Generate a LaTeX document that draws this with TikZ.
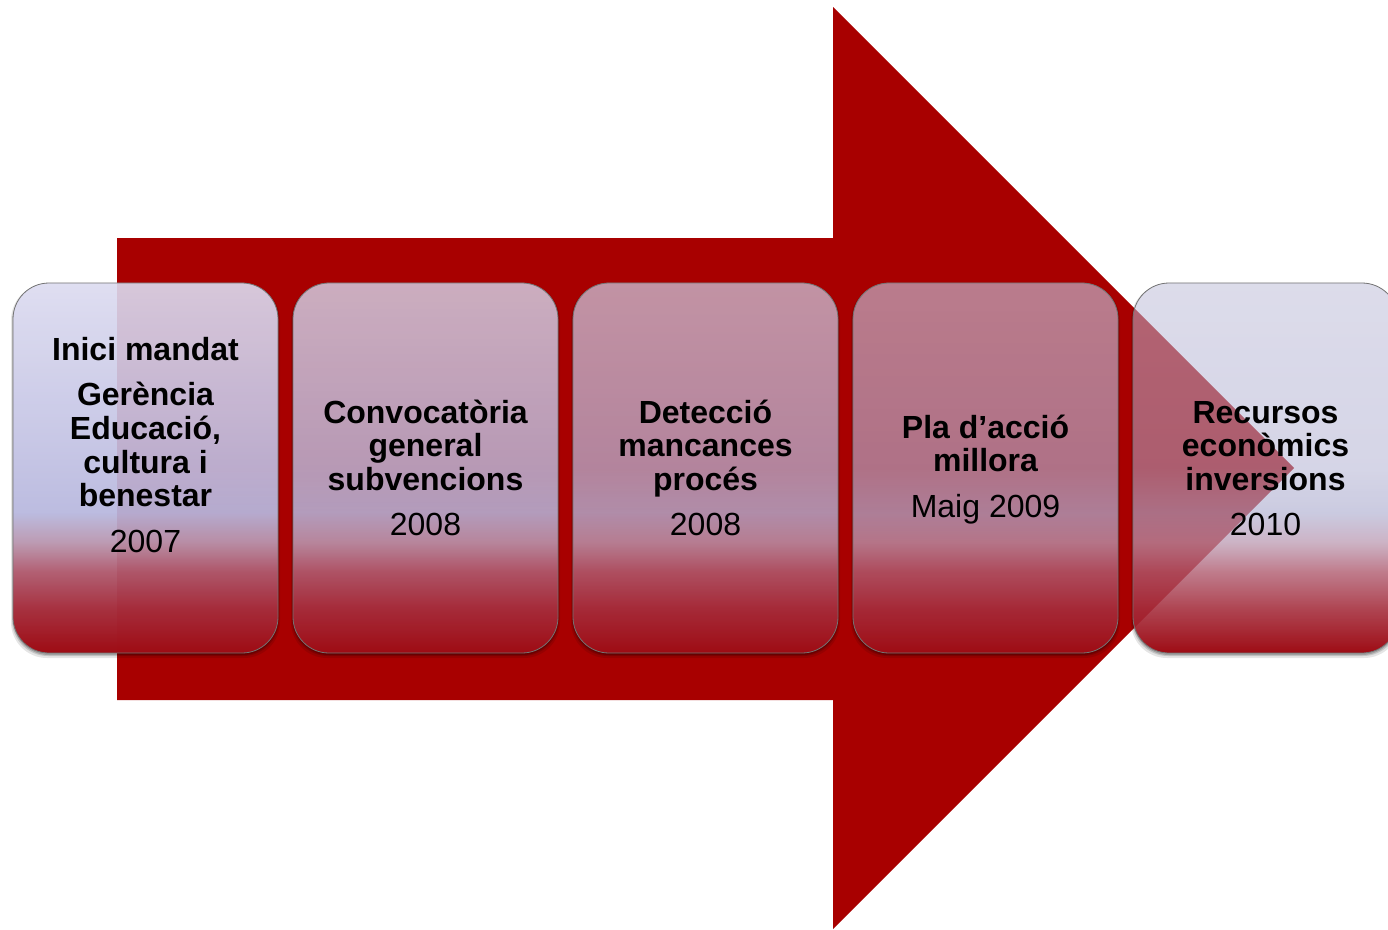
\documentclass[tikz,border=0pt]{standalone}
\usepackage{fontspec}
\setmainfont{Liberation Sans}
\usetikzlibrary{fadings}

\definecolor{arrowred}{RGB}{168,0,0}
\definecolor{loA}{RGB}{158,12,20}
\definecolor{loB}{RGB}{165,45,60}
\definecolor{loC}{RGB}{175,90,110}
\definecolor{loD}{RGB}{185,150,175}
\definecolor{topA}{RGB}{220,219,240}\definecolor{midA}{RGB}{183,183,222}
\definecolor{topB}{RGB}{212,212,234}\definecolor{midB}{RGB}{181,181,218}
\definecolor{topC}{RGB}{205,204,228}\definecolor{midC}{RGB}{179,179,215}
\definecolor{topD}{RGB}{197,197,223}\definecolor{midD}{RGB}{176,176,211}
\definecolor{topE}{RGB}{190,189,217}\definecolor{midE}{RGB}{174,174,208}

\newcommand{\mkboxshade}[3]{%
  \pgfdeclareverticalshading{#1}{100bp}{color(0bp)=(loA); color(25bp)=(loA);
    color(31bp)=(loB); color(36bp)=(loC); color(40bp)=(loD);
    color(44bp)=(#2); color(75bp)=(#3); color(100bp)=(#3)}}
\mkboxshade{bsA}{midA}{topA}
\mkboxshade{bsB}{midB}{topB}
\mkboxshade{bsC}{midC}{topC}
\mkboxshade{bsD}{midD}{topD}
\mkboxshade{bsE}{midE}{topE}

\tikzfading[name=fadeA, top color=transparent!9, bottom color=transparent!0, middle color=transparent!9]
\tikzfading[name=fadeB, top color=transparent!18, bottom color=transparent!0, middle color=transparent!18]
\tikzfading[name=fadeC, top color=transparent!28, bottom color=transparent!0, middle color=transparent!28]
\tikzfading[name=fadeD, top color=transparent!37, bottom color=transparent!0, middle color=transparent!37]
\tikzfading[name=fadeE, top color=transparent!47, bottom color=transparent!0, middle color=transparent!47]

\tikzset{
  boxedge/.style={rounded corners=36pt, draw=black!55, line width=0.8pt},
  boxshadow/.style={rounded corners=36pt, fill=black},
  ttl/.style={font=\bfseries\fontsize{32}{33.5}\selectfont, anchor=base, inner sep=0pt, text=black},
  yr/.style={font=\fontsize{32}{33.5}\selectfont, anchor=base, inner sep=0pt, text=black},
}

\newcommand{\stagebox}[3]{% left x, shading, fading
  \begin{scope}[even odd rule, rounded corners=36pt]
    \clip (#1-20,263) rectangle ++(305,420) (#1,283) rectangle ++(265,370);
    \path[boxshadow, fill opacity=0.10] (#1-2,283+1) rectangle ++(269,374);
    \path[boxshadow, fill opacity=0.14] (#1-1,283+2) rectangle ++(267,371);
    \path[boxshadow, fill opacity=0.18] (#1,283+3) rectangle ++(265,369);
  \end{scope}
  \path[rounded corners=36pt, shade, shading=#2, path fading=#3] (#1,283) rectangle ++(265,370);
  \path[boxedge] (#1,283) rectangle ++(265,370);
}

\begin{document}
\begin{tikzpicture}[x=1pt, y=-1pt]
\useasboundingbox (0,0) rectangle (1388,929);
\clip (0,0) rectangle (1388,929);
\fill[white] (0,0) rectangle (1388,929);

% big arrow
\fill[arrowred] (117,238) -- (833,238) -- (833,7) -- (1294,468) -- (833,929) -- (833,700) -- (117,700) -- cycle;

% boxes
\stagebox{13}{bsA}{fadeA}
\stagebox{293}{bsB}{fadeB}
\stagebox{573}{bsC}{fadeC}
\stagebox{853}{bsD}{fadeD}
\stagebox{1133}{bsE}{fadeE}

% box 1
\node[ttl] (a1) at (145.5,360) {Inici mandat};
\node[ttl] (a2) at (145.5,405.5) {Gerència};
\node[ttl] (a3) at (145.5,439.5) {Educació,};
\node[ttl] (a4) at (145.5,473) {cultura i};
\node[ttl] (a5) at (145.5,506.5) {benestar};
\node[yr]  (a6) at (145.5,552) {2007};
% box 2
\node[ttl] (b1) at (425.5,423) {Convocatòria};
\node[ttl] (b2) at (425.5,456.5) {general};
\node[ttl] (b3) at (425.5,490) {subvencions};
\node[yr]  (b4) at (425.5,535) {2008};
% box 3
\node[ttl] (c1) at (705.5,423) {Detecció};
\node[ttl] (c2) at (705.5,456.5) {mancances};
\node[ttl] (c3) at (705.5,490) {procés};
\node[yr]  (c4) at (705.5,535) {2008};
% box 4
\node[ttl] (d1) at (985.5,438) {Pla d’acció};
\node[ttl] (d2) at (985.5,471.5) {millora};
\node[yr]  (d3) at (985.5,517.5) {Maig 2009};
% box 5
\node[ttl] (e1) at (1265.5,423) {Recursos};
\node[ttl] (e2) at (1265.5,456.5) {econòmics};
\node[ttl] (e3) at (1265.5,490) {inversions};
\node[yr]  (e4) at (1265.5,535) {2010};
\end{tikzpicture}
\end{document}
